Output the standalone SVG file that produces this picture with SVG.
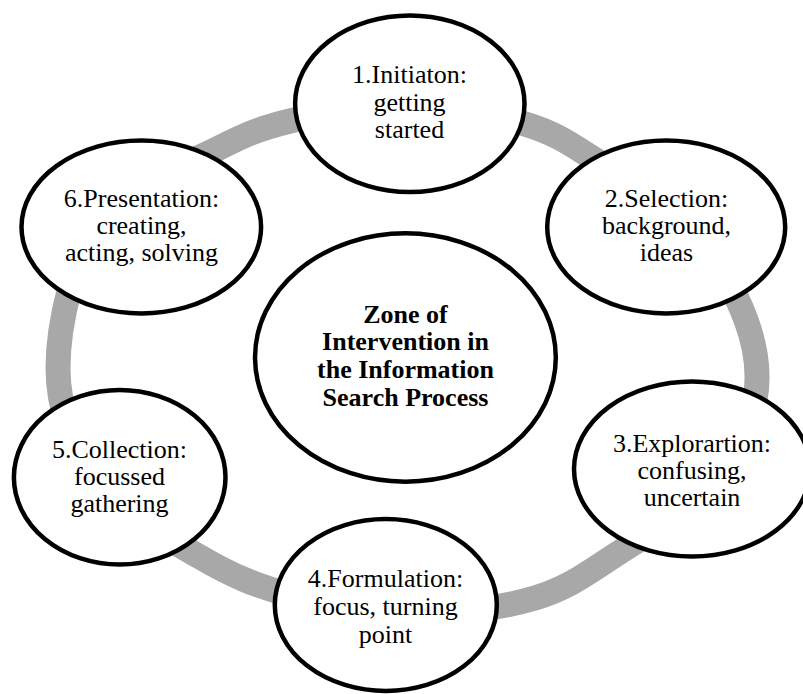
<svg xmlns="http://www.w3.org/2000/svg" width="803" height="694" viewBox="0 0 803 694">
  <style>
    .node { fill: #ffffff; stroke: #000000; stroke-width: 4.5; }
    .ring { fill: none; stroke: #a8a8a8; stroke-width: 25; }
    .label { font-family: "Liberation Serif", "Times New Roman", serif; font-size: 26px; fill: #000000; text-anchor: middle; }
    .hub { font-weight: bold; }
  </style>
  <rect width="803" height="694" fill="#ffffff"/>

  <!-- cycle track behind the stages -->
  <g id="connectors">
    <path class="ring" d="M58,368 C58,323.67 74.17,254.17 100,218 C125.83,181.83 181.33,167.17 213,151 C244.67,134.83 258,128.83 290,121 C322,113.17 365.83,103.5 405,104 C444.17,104.5 492.5,114.17 525,124 C557.5,133.83 572,145 600,163 C628,181 668.67,205.83 693,232 C717.33,258.17 735.67,292 746,320 C756.33,348 760,373 755,400 C750,427 738.5,456.67 716,482 C693.5,507.33 650.17,532.67 620,552 C589.83,571.33 570,587.67 535,598 C500,608.33 450.83,614.5 410,614 C369.17,613.5 325,604.5 290,595 C255,585.5 231.67,575.5 200,557 C168.33,538.5 123.67,515.5 100,484 C76.33,452.5 58,412.33 58,368 Z"/>
  </g>

  <g id="hub">
    <ellipse class="node" cx="405.4" cy="357.5" rx="150.4" ry="124.2"/>
    <text class="label hub" x="405.5" y="322.5">Zone of</text>
    <text class="label hub" x="405.5" y="350">Intervention in</text>
    <text class="label hub" x="405.5" y="377.7">the Information</text>
    <text class="label hub" x="405.5" y="405.5">Search Process</text>
  </g>

  <g id="stage1">
    <ellipse class="node" cx="409.8" cy="103.8" rx="114.7" ry="88.3"/>
    <text class="label" x="409.5" y="83">1.Initiaton:</text>
    <text class="label" x="409.5" y="110.5">getting</text>
    <text class="label" x="409.5" y="138">started</text>
  </g>

  <g id="stage2">
    <ellipse class="node" cx="666.2" cy="227" rx="119" ry="86.5"/>
    <text class="label" x="666.5" y="207">2.Selection:</text>
    <text class="label" x="666.5" y="234">background,</text>
    <text class="label" x="666.5" y="261">ideas</text>
  </g>

  <g id="stage3">
    <ellipse class="node" cx="692" cy="469" rx="118" ry="87.5"/>
    <text class="label" x="692" y="452">3.Explorartion:</text>
    <text class="label" x="692" y="479">confusing,</text>
    <text class="label" x="692" y="506">uncertain</text>
  </g>

  <g id="stage4">
    <ellipse class="node" cx="385.8" cy="605" rx="111" ry="86"/>
    <text class="label" x="385.5" y="587">4.Formulation:</text>
    <text class="label" x="385.5" y="615">focus, turning</text>
    <text class="label" x="385.5" y="642.5">point</text>
  </g>

  <g id="stage5">
    <ellipse class="node" cx="119.7" cy="477.3" rx="105.8" ry="87.3"/>
    <text class="label" x="119.5" y="458">5.Collection:</text>
    <text class="label" x="119.5" y="485">focussed</text>
    <text class="label" x="119.5" y="512">gathering</text>
  </g>

  <g id="stage6">
    <ellipse class="node" cx="141.3" cy="227" rx="119.8" ry="86.5"/>
    <text class="label" x="141.5" y="207">6.Presentation:</text>
    <text class="label" x="141.5" y="234">creating,</text>
    <text class="label" x="141.5" y="261">acting, solving</text>
  </g>
</svg>
